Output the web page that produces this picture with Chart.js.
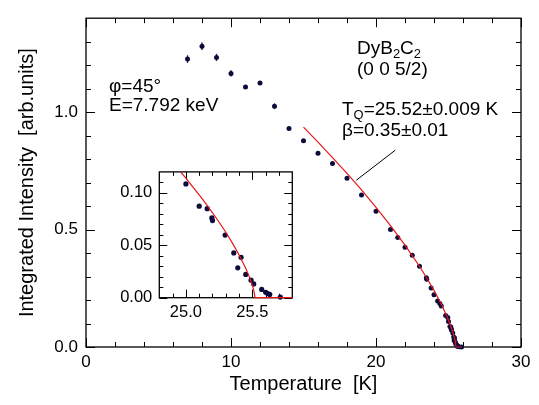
<!DOCTYPE html>
<html>
<head>
<meta charset="utf-8">
<script src="https://cdn.jsdelivr.net/npm/chart.js@4.4.1/dist/chart.umd.min.js"></script>
<style>
  body { margin: 0; background: #fff; }
  #wrap { position: relative; width: 539px; height: 405px; }
  #main { position: absolute; left: 0; top: 0; }
  #inset { position: absolute; left: 100px; top: 155px; }
</style>
</head>
<body>
<div id="wrap">
  <canvas id="main" width="539" height="405"></canvas>
  <canvas id="inset" width="200" height="175"></canvas>
</div>
<script>
// measured points (temperature in K, integrated intensity)
const tempK = [7.0, 8.0, 9.0, 10.0, 11.0, 12.0, 13.0, 14.0, 15.0, 16.0, 17.0, 18.0, 19.0, 20.0,
  21.0, 21.5, 22.0, 22.5, 23.0, 23.47, 23.5, 23.8, 24.0, 24.25, 24.4, 24.5, 24.8, 24.95,
  25.0, 25.1, 25.16, 25.195, 25.2, 25.295, 25.36, 25.39, 25.415, 25.45, 25.49, 25.51,
  25.57, 25.6, 25.615, 25.63, 25.71, 25.9];
const intensity = [1.226, 1.281, 1.233, 1.165, 1.107, 1.124, 1.025, 0.930, 0.878, 0.825, 0.781, 0.718, 0.647, 0.578,
  0.500, 0.466, 0.425, 0.391, 0.344, 0.295, 0.288, 0.251, 0.222, 0.196, 0.185, 0.175, 0.134, 0.126,
  0.1085, 0.0873, 0.0849, 0.0761, 0.0736, 0.0597, 0.0427, 0.0285, 0.0385, 0.0222, 0.0167, 0.0131,
  0.0079, 0.0052, 0.0040, 0.0031, 0.0006, 0.0];
// error bars only visible on the low temperature points
const intensityErr = [0.016, 0.016, 0.015, 0.013, 0.008, 0.008, 0.012];

// power-law fit curve
const fitT = [15, 16, 17, 18, 19, 20, 21, 22, 23, 23.5, 24, 24.5, 24.8, 24.9, 25.0, 25.05, 25.1, 25.15,
  25.2, 25.25, 25.3, 25.35, 25.4, 25.45, 25.48, 25.5, 25.51, 25.52, 25.9];
const fitI = [0.936, 0.872, 0.806, 0.739, 0.669, 0.595, 0.517, 0.434, 0.344, 0.294, 0.241, 0.183, 0.143, 0.129,
  0.114, 0.106, 0.098, 0.0897, 0.081, 0.072, 0.0624, 0.0521, 0.0408, 0.028, 0.0189, 0.0117, 0.0072, 0, 0];

// leader line from the fit curve to the fit parameters
const leaderT = [18.64, 21.33];
const leaderI = [0.710, 0.838];

// axes
const mainXMajor = [0, 10, 20, 30];
const mainXMinor = [2, 4, 6, 8, 12, 14, 16, 18, 22, 24, 26, 28];
const mainYMajor = [0, 0.5, 1.0];
const mainYMinor = [0.1, 0.2, 0.3, 0.4, 0.6, 0.7, 0.8, 0.9, 1.1, 1.2, 1.3];
const insetXMajor = [25.0, 25.5];
const insetXMinor = [24.9, 25.1, 25.2, 25.3, 25.4, 25.6, 25.7];
const insetYMajor = [0, 0.05, 0.10];
const insetYMinor = [0.01, 0.02, 0.03, 0.04, 0.06, 0.07, 0.08, 0.09, 0.11];

const FONT = "'Liberation Sans', Arial, Helvetica, sans-serif";
const RED = '#e3171c';
const NAVY = '#0c0c3c';

Chart.defaults.font.family = FONT;
Chart.defaults.color = '#000';

const toPts = (xs, ys) => xs.map((x, i) => ({ x: x, y: ys[i] }));
// let the flat part of the fit sit on top of the bottom axis
const BOTTOM_CLIP = { left: 0, top: 0, right: 0, bottom: 3 };

/**
 * Frame around the plot area with inward ticks on all four sides
 */
const boxTicks = {
    id: 'boxTicks',
    beforeDatasetsDraw(chart, args, opts) {
        const { ctx, chartArea: a, scales } = chart;
        ctx.save();
        ctx.strokeStyle = '#000';
        ctx.lineWidth = 1;
        const tick = (vals, len, horiz) => {
            vals.forEach(v => {
                ctx.beginPath();
                if (horiz) {
                    const px = Math.round(scales.x.getPixelForValue(v)) + 0.5;
                    ctx.moveTo(px, a.bottom); ctx.lineTo(px, a.bottom - len);
                    ctx.moveTo(px, a.top); ctx.lineTo(px, a.top + len);
                } else {
                    const py = Math.round(scales.y.getPixelForValue(v)) + 0.5;
                    ctx.moveTo(a.left, py); ctx.lineTo(a.left + len, py);
                    ctx.moveTo(a.right, py); ctx.lineTo(a.right - len, py);
                }
                ctx.stroke();
            });
        };
        tick(opts.xMajor, opts.major, true);
        tick(opts.xMinor, opts.minor, true);
        tick(opts.yMajor, opts.major, false);
        tick(opts.yMinor, opts.minor, false);
        ctx.lineWidth = 1.3;
        ctx.strokeRect(a.left, a.top, a.right - a.left, a.bottom - a.top);
        ctx.restore();
    }
};

/**
 * Vertical error bars under the markers
 */
const errBars = {
    id: 'errBars',
    beforeDatasetsDraw(chart) {
        const { ctx, scales: { x, y } } = chart;
        ctx.save();
        ctx.strokeStyle = NAVY;
        ctx.lineWidth = 1.3;
        intensityErr.forEach((e, i) => {
            if (!e) return;
            const px = x.getPixelForValue(tempK[i]);
            ctx.beginPath();
            ctx.moveTo(px, y.getPixelForValue(intensity[i] - e));
            ctx.lineTo(px, y.getPixelForValue(intensity[i] + e));
            ctx.stroke();
        });
        ctx.restore();
    }
};

// text with subscripts: parts = [[text, isSub], ...]
function drawRich(ctx, parts, x, y, size) {
    parts.forEach(([txt, sub]) => {
        ctx.font = (sub ? size * 0.68 : size) + 'px ' + FONT;
        ctx.fillText(txt, x, sub ? y + size * 0.22 : y);
        x += ctx.measureText(txt).width;
    });
}

const notes = {
    id: 'notes',
    afterDraw(chart) {
        const ctx = chart.ctx;
        ctx.save();
        ctx.fillStyle = '#000';
        ctx.textBaseline = 'alphabetic';
        ctx.textAlign = 'left';
        const s = 19;
        drawRich(ctx, [['DyB', false], ['2', true], ['C', false], ['2', true]], 357, 54, s);
        drawRich(ctx, [['(0 0 5/2)', false]], 357, 75, s);
        drawRich(ctx, [['T', false], ['Q', true], ['=25.52\u00b10.009 K', false]], 342, 114.5, s);
        drawRich(ctx, [['\u03b2=0.35\u00b10.01', false]], 342, 136, s);
        drawRich(ctx, [['\u03c6=45\u00b0', false]], 109, 92, s);
        drawRich(ctx, [['E=7.792 keV', false]], 109, 111, s);
        ctx.restore();
    }
};

const setTicks = vals => axis => { axis.ticks = vals.map(v => ({ value: v })); };

// main plot
new Chart(document.getElementById('main'), {
    type: 'scatter',
    data: {
        datasets: [
            { data: toPts(fitT, fitI), showLine: true, borderColor: RED, borderWidth: 1.2,
              pointRadius: 0, tension: 0, order: 0, clip: BOTTOM_CLIP },
            { data: toPts(leaderT, leaderI), showLine: true, borderColor: '#000', borderWidth: 1,
              pointRadius: 0, order: 0 },
            { data: toPts(tempK, intensity), pointRadius: 2.5, backgroundColor: NAVY,
              borderWidth: 0, order: 1, clip: false }
        ]
    },
    options: {
        responsive: false,
        animation: false,
        layout: { padding: { top: 6, right: 18, left: 0, bottom: 0 } },
        plugins: {
            legend: { display: false },
            tooltip: { enabled: false },
            boxTicks: { xMajor: mainXMajor, xMinor: mainXMinor, yMajor: mainYMajor, yMinor: mainYMinor,
                        major: 9, minor: 5 }
        },
        scales: {
            x: {
                type: 'linear', min: 0, max: 30,
                afterBuildTicks: setTicks(mainXMajor),
                afterFit: s => { s.height = 58; },
                grid: { display: false, drawTicks: false },
                border: { display: false },
                ticks: { padding: 5, font: { size: 17 }, color: '#000', callback: v => String(v) },
                title: { display: true, text: 'Temperature  [K]', font: { size: 20 }, color: '#000',
                         padding: { top: 0, bottom: 9 } }
            },
            y: {
                type: 'linear', min: 0, max: 1.4,
                afterBuildTicks: setTicks(mainYMajor),
                afterFit: s => { s.width = 86; },
                grid: { display: false, drawTicks: false },
                border: { display: false },
                ticks: { padding: 8, font: { size: 17 }, color: '#000', callback: v => v.toFixed(1) },
                title: { display: true, text: 'Integrated Intensity  [arb.units]', font: { size: 20 },
                         color: '#000', padding: { top: 15, bottom: 0 } }
            }
        }
    },
    plugins: [boxTicks, errBars, notes]
});

// inset: zoom on the transition
const nearT = tempK.filter(t => t >= 24.95);
const nearI = intensity.slice(tempK.length - nearT.length);

new Chart(document.getElementById('inset'), {
    type: 'scatter',
    data: {
        datasets: [
            { data: toPts(fitT, fitI), showLine: true, borderColor: RED, borderWidth: 1.2,
              pointRadius: 0, tension: 0, order: 0, clip: BOTTOM_CLIP },
            { data: toPts(nearT, nearI), pointRadius: 2.6, backgroundColor: NAVY,
              borderWidth: 0, order: 1, clip: BOTTOM_CLIP }
        ]
    },
    options: {
        responsive: false,
        animation: false,
        layout: { padding: { top: 11, right: 7.7, left: 0, bottom: 0 } },
        plugins: {
            legend: { display: false },
            tooltip: { enabled: false },
            boxTicks: { xMajor: insetXMajor, xMinor: insetXMinor, yMajor: insetYMajor, yMinor: insetYMinor,
                        major: 8, minor: 4 }
        },
        scales: {
            x: {
                type: 'linear', min: 24.8, max: 25.8,
                afterBuildTicks: setTicks(insetXMajor),
                afterFit: s => { s.height = 32.3; },
                grid: { display: false, drawTicks: false },
                border: { display: false },
                ticks: { padding: 5, font: { size: 16.5 }, color: '#000', callback: v => v.toFixed(1) }
            },
            y: {
                type: 'linear', min: 0, max: 0.12,
                afterBuildTicks: setTicks(insetYMajor),
                afterFit: s => { s.width = 59.3; },
                grid: { display: false, drawTicks: false },
                border: { display: false },
                ticks: { padding: 7, font: { size: 16.5 }, color: '#000', callback: v => v.toFixed(2) }
            }
        }
    },
    plugins: [boxTicks]
});
</script>
</body>
</html>
